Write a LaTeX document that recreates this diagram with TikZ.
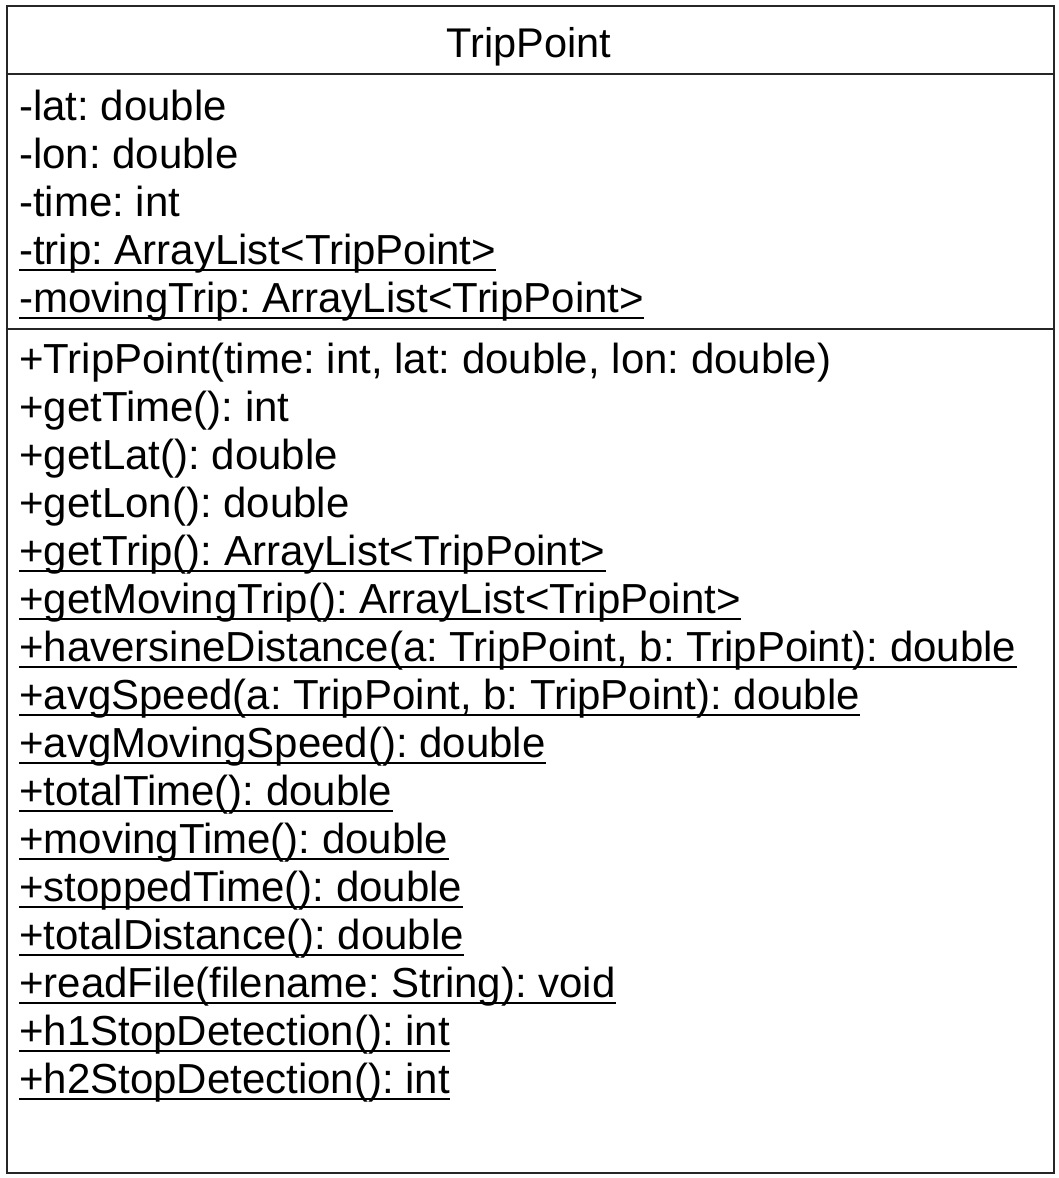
\documentclass[tikz,border=0pt]{standalone}
\usepackage{fontspec}
\setmainfont{Liberation Sans}
\frenchspacing
\begin{document}
\begin{tikzpicture}[x=1pt,y=-1pt,
  txt/.style={inner sep=0pt,anchor=base west,font=\fontsize{42}{48}\selectfont\frenchspacing},
  ttl/.style={inner sep=0pt,anchor=base,font=\fontsize{41.5}{48}\selectfont},
  frame/.style={draw=black!85,line width=2pt},
  uline/.style={line width=2.6pt}]
\useasboundingbox (0,0) rectangle (1058,1178);
\node[frame,rectangle,minimum width=1047pt,minimum height=1167pt,anchor=north west,inner sep=0pt] (box) at (5.5,5) {};
\coordinate (s1l) at (5.5,74);
\coordinate (s1r) at (1052.5,74);
\coordinate (s2l) at (5.5,328.5);
\coordinate (s2r) at (1052.5,328.5);
\draw[frame] (s1l) -- (s1r);
\draw[frame] (s2l) -- (s2r);
\node[ttl] (title) at (529,57) {TripPoint};
% attributes
\node[txt] (a1) at (19,120) {-lat: double};
\node[txt] (a2) at (19,168) {-lon: double};
\node[txt] (a3) at (19,216) {-time: int};
\node[txt] (a4) at (19,264) {-trip: ArrayList<TripPoint>};
\node[txt] (a5) at (19,312) {-movingTrip: ArrayList<TripPoint>};
% methods
\node[txt] (m1) at (19,373) {+TripPoint(time: int, lat: double, lon: double)};
\node[txt] (m2) at (19,421) {+getTime(): int};
\node[txt] (m3) at (19,469) {+getLat(): double};
\node[txt] (m4) at (19,517) {+getLon(): double};
\node[txt] (m5) at (19,565) {+getTrip(): ArrayList<TripPoint>};
\node[txt] (m6) at (19,613) {+getMovingTrip(): ArrayList<TripPoint>};
\node[txt] (m7) at (19,661) {+haversineDistance(a: TripPoint, b: TripPoint): double};
\node[txt] (m8) at (19,709) {+avgSpeed(a: TripPoint, b: TripPoint): double};
\node[txt] (m9) at (19,757) {+avgMovingSpeed(): double};
\node[txt] (m10) at (19,805) {+totalTime(): double};
\node[txt] (m11) at (19,853) {+movingTime(): double};
\node[txt] (m12) at (19,901) {+stoppedTime(): double};
\node[txt] (m13) at (19,949) {+totalDistance(): double};
\node[txt] (m14) at (19,997) {+readFile(filename: String): void};
\node[txt] (m15) at (19,1045) {+h1StopDetection(): int};
\node[txt] (m16) at (19,1093) {+h2StopDetection(): int};
\foreach \n in {a4,a5,m5,m6,m7,m8,m9,m10,m11,m12,m13,m14,m15,m16}
  \draw[uline] ([yshift=-6pt]\n.base west) -- ([yshift=-6pt]\n.base east);
\end{tikzpicture}
\end{document}
